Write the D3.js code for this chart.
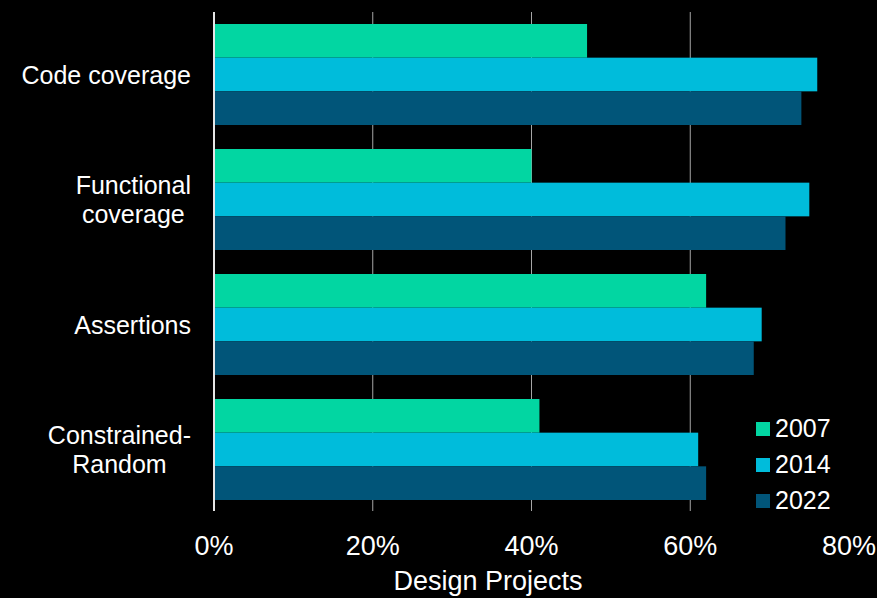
<!DOCTYPE html>
<html>
<head>
<meta charset="utf-8">
<script src="https://cdn.jsdelivr.net/npm/d3@7"></script>
<style>
  body { margin: 0; background: #000; }
  text { font-family: "Liberation Sans", Arial, sans-serif; fill: #fff; }
</style>
</head>
<body>
<script>
var width = 877,
    height = 598;

var categories = ["Code coverage", "Functional coverage", "Assertions", "Constrained-Random"];
var labelLines = [["Code coverage"], ["Functional", "coverage"], ["Assertions"], ["Constrained-", "Random"]];
var years = ["2007", "2014", "2022"];
var v2007 = [0.47, 0.40, 0.62, 0.41];
var v2014 = [0.76, 0.75, 0.69, 0.61];
var v2022 = [0.74, 0.72, 0.68, 0.62];
var ticks = [0, 0.2, 0.4, 0.6, 0.8];
var gridTicks = [0.2, 0.4, 0.6];
var colors = ["#02d6a2", "#00bcdb", "#015579"];

var series = [v2007, v2014, v2022];

var svg = d3.select('body')
    .append('svg')
    .attr('width', width)
    .attr('height', height)
    .style('background', '#000');

var x = d3.scaleLinear()
    .domain([0, 0.8])
    .range([214, 849]);

var y = d3.scaleBand()
    .domain(categories)
    .range([12, 512])
    .paddingInner(0.192)
    .paddingOuter(0.096);

var y1 = d3.scaleBand()
    .domain(years)
    .range([0, y.bandwidth()]);

// gridlines
svg.append('g').selectAll('line')
    .data(gridTicks)
    .enter()
    .append('line')
    .attr('x1', d => x(d))
    .attr('x2', d => x(d))
    .attr('y1', 12)
    .attr('y2', 511)
    .attr('stroke', '#a6a6a6')
    .attr('stroke-width', 1);

// bars
var groups = svg.append('g').selectAll('g')
    .data(categories)
    .enter()
    .append('g')
    .attr('transform', d => 'translate(0,' + y(d) + ')');

groups.selectAll('rect')
    .data((c, i) => years.map((yr, j) => ({year: yr, value: series[j][i], color: colors[j]})))
    .enter()
    .append('rect')
    .attr('x', x(0))
    .attr('y', d => y1(d.year))
    .attr('width', d => x(d.value) - x(0))
    .attr('height', y1.bandwidth())
    .attr('fill', d => d.color);

// zero axis line
svg.append('line')
    .attr('x1', x(0))
    .attr('x2', x(0))
    .attr('y1', 12)
    .attr('y2', 511)
    .attr('stroke', '#e6e6e6')
    .attr('stroke-width', 2);

// x tick labels
svg.append('g').selectAll('text')
    .data(ticks)
    .enter()
    .append('text')
    .attr('x', d => x(d))
    .attr('y', 555)
    .attr('text-anchor', 'middle')
    .style('font-size', '27px')
    .text(d => d3.format('.0%')(d));

// axis title
svg.append('text')
    .attr('x', 488)
    .attr('y', 590)
    .attr('text-anchor', 'middle')
    .style('font-size', '27px')
    .text('Design Projects');

// category labels, centered block right-aligned at 191
categories.forEach(function(c, i) {
    var lines = labelLines[i];
    var cy = y(c) + y.bandwidth() / 2;
    var g = svg.append('g');
    var texts = g.selectAll('text')
        .data(lines)
        .enter()
        .append('text')
        .attr('y', (d, k) => cy + (k - (lines.length - 1) / 2) * 29 + 9)
        .attr('text-anchor', 'middle')
        .style('font-size', '25px')
        .text(d => d);
    var maxW = 0;
    texts.each(function() { maxW = Math.max(maxW, this.getComputedTextLength()); });
    texts.attr('x', 191 - maxW / 2);
});

// legend
var legend = svg.append('g').selectAll('g')
    .data(years)
    .enter()
    .append('g')
    .attr('transform', (d, i) => 'translate(756,' + (422 + i * 36) + ')');

legend.append('rect')
    .attr('width', 14)
    .attr('height', 14)
    .attr('fill', (d, i) => colors[i]);

legend.append('text')
    .attr('x', 19)
    .attr('y', 15)
    .style('font-size', '25px')
    .text(d => d);
</script>
</body>
</html>
